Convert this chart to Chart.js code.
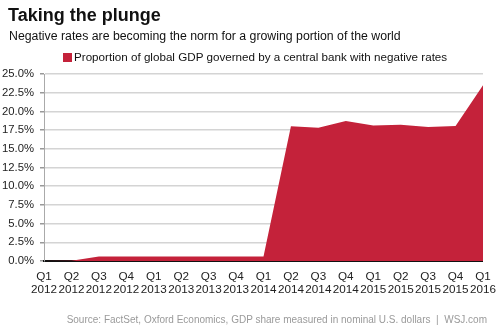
<!DOCTYPE html>
<html>
<head>
<meta charset="utf-8">
<script src="https://cdn.jsdelivr.net/npm/chart.js@4.4.1/dist/chart.umd.min.js"></script>
<style>
  html, body { margin: 0; padding: 0; background: #fff; }
  #wrap { position: relative; width: 500px; height: 333px; overflow: hidden; font-family: "Liberation Sans", Arial, sans-serif; }
  #chart { position: absolute; left: 0; top: 0; }
  .txt { position: absolute; white-space: nowrap; color: #111; }
  #title { left: 8px; top: 5px; font-size: 18px; font-weight: bold; }
  #subtitle { left: 9px; top: 29px; font-size: 12.3px; }
  #legend { left: 63px; top: 50px; font-size: 11.65px; }
  #legend .sw { display: inline-block; width: 9px; height: 9px; background: #c4223a; margin-right: 2px; vertical-align: -1px; }
  #source { right: 13px; top: 314px; font-size: 10px; color: #9a9a9a; }
</style>
</head>
<body>
<div id="wrap">
  <canvas id="chart" width="500" height="333"></canvas>
  <div class="txt" id="title">Taking the plunge</div>
  <div class="txt" id="subtitle">Negative rates are becoming the norm for a growing portion of the world</div>
  <div class="txt" id="legend"><span class="sw"></span>Proportion of global GDP governed by a central bank with negative rates</div>
  <div class="txt" id="source">Source: FactSet, Oxford Economics, GDP share measured in nominal U.S. dollars &nbsp;|&nbsp; WSJ.com</div>
</div>
<script>
// Quarters and share of global GDP (%) under negative central-bank rates
const quarters = ["Q1", "Q2", "Q3", "Q4", "Q1", "Q2", "Q3", "Q4", "Q1", "Q2", "Q3", "Q4", "Q1", "Q2", "Q3", "Q4", "Q1"];
const years = ["2012", "2012", "2012", "2012", "2013", "2013", "2013", "2013", "2014", "2014", "2014", "2014", "2015", "2015", "2015", "2015", "2016"];
const gdpShare = [0.0, 0.05, 0.6, 0.6, 0.6, 0.6, 0.6, 0.6, 0.6, 18.0, 17.8, 18.7, 18.1, 18.2, 17.9, 18.05, 23.5];
const yTicks = [0, 2.5, 5, 7.5, 10, 12.5, 15, 17.5, 20, 22.5, 25];

const labels = quarters.map((q, i) => [q, years[i]]);

new Chart(document.getElementById("chart"), {
  type: "line",
  data: {
    labels: labels,
    datasets: [{
      label: "Proportion of global GDP governed by a central bank with negative rates",
      data: gdpShare,
      fill: "origin",
      backgroundColor: "#c4223a",
      borderColor: "#c4223a",
      borderWidth: 0,
      pointRadius: 0,
      tension: 0
    }]
  },
  options: {
    responsive: false,
    animation: false,
    layout: { padding: { left: 0, right: 17, top: 74, bottom: 0 } },
    plugins: { legend: { display: false }, tooltip: { enabled: false } },
    scales: {
      x: {
        offset: false,
        afterFit: s => { s.height = 72; },
        grid: { display: false, drawOnChartArea: false, drawTicks: true, tickLength: 5, tickColor: "#111", tickWidth: 1.5 },
        border: { display: true, color: "#111", width: 2 },
        ticks: { color: "#222", font: { family: "Liberation Sans, Arial, sans-serif", size: 11.7, lineHeight: 1.15 }, maxRotation: 0, autoSkip: false, padding: 4 }
      },
      y: {
        min: 0,
        max: 25,
        afterFit: s => { s.width = 44; },
        afterBuildTicks: s => { s.ticks = yTicks.map(v => ({ value: v })); },
        grid: { color: "#d4d4d4", lineWidth: 1.5, drawTicks: true, tickLength: 4, tickColor: "#999" },
        border: { display: true, color: "#aaa", width: 1 },
        ticks: {
          color: "#222",
          padding: 6,
          font: { family: "Liberation Sans, Arial, sans-serif", size: 11.3 },
          callback: v => v.toFixed(1) + "%"
        }
      }
    }
  }
});
</script>
</body>
</html>
